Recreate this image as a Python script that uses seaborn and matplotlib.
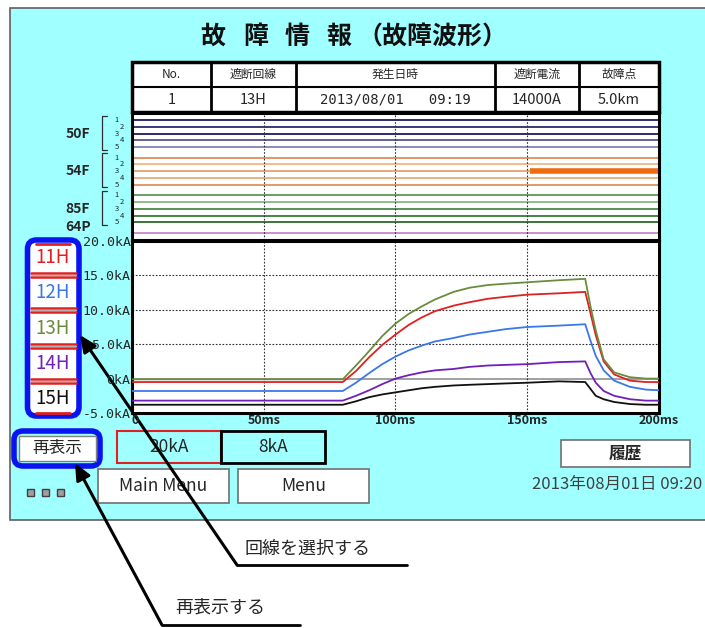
import numpy as np
import pandas as pd
import matplotlib
matplotlib.use('Agg')
import matplotlib.pyplot as plt
import seaborn as sns
from matplotlib.patches import Rectangle, FancyBboxPatch

# ---- data -------------------------------------------------------------
circuits = ['11H', '12H', '13H', '14H', '15H']
circuit_colors = ['#e02020', '#3a78e8', '#6a8c3c', '#7020b8', '#101010']

time_ms = [0, 20, 40, 60, 80, 85, 90, 95, 100, 105, 110, 115, 122, 128, 135, 142,
           150, 162, 172, 174, 176, 179, 183, 189, 195, 200]
i_11h = [-0.5, -0.5, -0.5, -0.5, -0.5, 1.1, 3.1, 4.9, 6.4, 7.8, 8.9, 9.8, 10.6,
         11.1, 11.6, 11.9, 12.2, 12.4, 12.6, 9.5, 6.3, 2.5, 0.6, -0.3, -0.5, -0.5]
i_12h = [-1.8, -1.8, -1.8, -1.8, -1.8, -0.6, 0.8, 2.1, 3.2, 4.1, 4.8, 5.4, 5.9,
         6.4, 6.8, 7.2, 7.5, 7.7, 7.9, 5.5, 3.3, 1.2, -0.3, -1.2, -1.6, -1.7]
i_13h = [-0.1, -0.1, -0.1, -0.1, -0.1, 1.9, 4.0, 6.2, 8.0, 9.4, 10.5, 11.5, 12.6,
         13.2, 13.6, 13.8, 14.0, 14.3, 14.5, 10.5, 7.0, 2.8, 0.9, 0.2, 0.0, 0.0]
i_14h = [-3.2, -3.2, -3.2, -3.2, -3.2, -2.5, -1.7, -0.8, 0.0, 0.5, 0.9, 1.2, 1.4,
         1.7, 1.9, 2.0, 2.1, 2.4, 2.5, 0.8, -0.6, -1.8, -2.5, -3.0, -3.2, -3.2]
i_15h = [-3.8, -3.8, -3.8, -3.8, -3.8, -3.3, -2.7, -2.3, -2.0, -1.7, -1.4, -1.2,
         -1.0, -0.9, -0.8, -0.7, -0.6, -0.4, -0.5, -1.5, -2.5, -3.0, -3.4, -3.7,
         -3.8, -3.8]

groups = ['50F', '54F', '85F', '64P']
group_channels = [5, 5, 5, 1]
digital_colors = [['#1c1c5c', '#2a2a6a', '#1c1c5c', '#55558f', '#8282b4'],
                  ['#e08c5a', '#f0b488', '#e8a070', '#ecac80', '#e0905e'],
                  ['#5a9a5a', '#86b886', '#4a8a4a', '#3a7a3a', '#2a6a2a'],
                  ['#c888c8']]
trip_group, trip_channel, trip_on_ms = '54F', 3, 151

title_words = ['故', '障', '情', '報', '（故障波形）']
table_header = ['No.', '遮断回線', '発生日時', '遮断電流', '故障点']
table_row = ['1', '13H', '2013/08/01   09:19', '14000A', '5.0km']

y_ticks = [-5, 0, 5, 10, 15, 20]
y_labels = ['-5.0kA', '0kA', '5.0kA', '10.0kA', '15.0kA', '20.0kA']
x_ticks = [0, 50, 100, 150, 200]
x_labels = ['0', '50ms', '100ms', '150ms', '200ms']

W, H = 705, 628
MONO = ['DejaVu Sans Mono', 'DejaVu Sans']


def fbox(x0, y0, x1, y1):
    return [x0 / W, 1 - y1 / H, (x1 - x0) / W, (y1 - y0) / H]


sns.set_style('white')
plt.rcParams['font.family'] = ['Noto Sans CJK JP', 'DejaVu Sans']

fig = plt.figure(figsize=(W / 100, H / 100), dpi=100)
bg = fig.add_axes([0, 0, 1, 1])
bg.set_xlim(0, W)
bg.set_ylim(H, 0)
bg.axis('off')

# cyan panel
bg.add_patch(Rectangle((10, 8), 700, 512, facecolor='#a0ffff', edgecolor='#606060', lw=1.2))
for xc, word in zip([213, 256, 297, 339, 432], title_words):
    bg.text(xc, 37, word, ha='center', va='center', fontsize=18, fontweight='bold',
            color='#101010')

# info table
cols = [132, 211, 296, 495, 579, 659]
bg.add_patch(Rectangle((132, 62), 527, 50, facecolor='white', edgecolor='black', lw=2.5))
bg.plot([132, 659], [87, 87], color='black', lw=1.5)
for cx in cols[1:-1]:
    bg.plot([cx, cx], [62, 112], color='black', lw=2)
for k in range(5):
    xc = (cols[k] + cols[k + 1]) / 2
    bg.text(xc, 74.5, table_header[k], ha='center', va='center', fontsize=8.5)
    bg.text(xc, 99.5, table_row[k], ha='center', va='center',
            fontsize=10 if k == 2 else 10.5, family=MONO if k == 2 else None)

# digital section
dax = fig.add_axes(fbox(132, 113, 659, 240))
dax.set_xlim(0, 200)
dax.set_ylim(240, 113)
dax.set_facecolor('white')
idx = 0
for g, name in enumerate(groups):
    ys = []
    for c in range(group_channels[g]):
        y = 120 + idx * 6.8 + g * 3.6
        ys.append(y)
        dax.hlines(y, 0, 200, color=digital_colors[g][c], lw=1.3)
        if name == trip_group and c + 1 == trip_channel:
            dax.hlines(y, trip_on_ms, 200, color='#f06a10', lw=4)
        idx += 1
    if group_channels[g] > 1:
        top, bot = ys[0] - 4.5, ys[-1] + 2.5
        bg.plot([107, 101.5, 101.5, 107], [top, top, bot, bot], color='#303030', lw=0.9)
        for c, y in enumerate(ys):
            bg.text(122 if c % 2 else 116.5, y, str(c + 1), ha='center', va='center',
                    fontsize=5.5)
        bg.text(78, (ys[0] + ys[-1]) / 2, name, ha='center', va='center', fontsize=10,
                fontweight='bold')
    else:
        bg.text(78, ys[0] - 6, name, ha='center', va='center', fontsize=10,
                fontweight='bold')
for t in x_ticks[1:-1]:
    dax.axvline(t, color='#303030', lw=0.8, ls=(0, (1.5, 1.5)))
dax.set_xticks([])
dax.set_yticks([])
for s in dax.spines.values():
    s.set_color('black')
    s.set_linewidth(2.2)

# analog section
ax = fig.add_axes(fbox(132, 241, 659, 413))
wave = pd.DataFrame({
    'time': np.tile(time_ms, len(circuits)),
    'kA': np.concatenate([i_11h, i_12h, i_13h, i_14h, i_15h]),
    'circuit': np.repeat(circuits, len(time_ms)),
})
ax.axhline(0, color='#909090', lw=1.2, zorder=1)
for t in x_ticks[1:-1]:
    ax.axvline(t, color='#303030', lw=0.8, ls=(0, (1.5, 1.5)), zorder=1)
for v in y_ticks[2:-1]:
    ax.axhline(v, color='#303030', lw=0.8, ls=(0, (1.5, 1.5)), zorder=1)
sns.lineplot(data=wave, x='time', y='kA', hue='circuit', hue_order=circuits,
             palette=circuit_colors, lw=1.3, legend=False, ax=ax, zorder=3)
ax.set_xlim(0, 200)
ax.set_ylim(-5, 20)
ax.set_xticks(x_ticks)
ax.set_xticklabels(x_labels, fontsize=9, fontweight='bold')
ax.get_xticklabels()[0].set_ha('left')
ax.set_yticks(y_ticks)
ax.set_yticklabels(y_labels, fontsize=9.5, family=MONO)
ax.tick_params(length=0, pad=1)
ax.set_xlabel('')
ax.set_ylabel('')
ax.set_facecolor('white')
for s in ax.spines.values():
    s.set_color('black')
    s.set_linewidth(2.2)

# circuit selector box
x0, y0, x1, y1 = 27.5, 240, 79, 416
bg.add_patch(FancyBboxPatch((x0, y0), x1 - x0, y1 - y0,
                            boxstyle='round,pad=0,rounding_size=9',
                            facecolor='white', edgecolor='#0a14f0', lw=4, zorder=5))
cell_h = (y1 - y0) / 5
for k, name in enumerate(circuits):
    yc = y0 + cell_h * (k + 0.5)
    bg.text(53, yc, name, ha='center', va='center', fontsize=13.5,
            color=circuit_colors[k], zorder=6)
    if k > 0:
        yb = y0 + cell_h * k
        bg.plot([31, 76], [yb - 2, yb - 2], color='#e02020', lw=1.8, zorder=6)
        bg.plot([31, 76], [yb + 2, yb + 2], color='#e02020', lw=1.8, zorder=6)
        bg.plot([31, 76], [yb, yb], color='#b0b0b0', lw=1.0, zorder=6)
bg.plot([36, 70], [243.5, 243.5], color='#e02020', lw=2.0, zorder=6)
bg.plot([36, 70], [412.5, 412.5], color='#e02020', lw=2.0, zorder=6)

# buttons
bg.add_patch(FancyBboxPatch((14, 431), 86, 35, boxstyle='round,pad=0,rounding_size=9',
                            facecolor='#a0ffff', edgecolor='#0a14f0', lw=4))
bg.add_patch(Rectangle((19, 436), 77, 25, facecolor='white', edgecolor='#808080', lw=1))
bg.text(57.5, 448.5, '再表示', ha='center', va='center', fontsize=12)
bg.add_patch(Rectangle((117, 431), 104, 32, facecolor='none', edgecolor='#e02020', lw=1.5))
bg.add_patch(Rectangle((221, 431), 104, 32, facecolor='none', edgecolor='black', lw=2))
bg.text(169, 447, '20kA', ha='center', va='center', fontsize=12.5)
bg.text(273, 447, '8kA', ha='center', va='center', fontsize=12.5)
for (bx0, by0, bx1, by1, label) in [(561, 440, 690, 467, '履歴'),
                                    (98, 469, 229, 503, 'Main Menu'),
                                    (238, 469, 369, 503, 'Menu')]:
    bg.add_patch(Rectangle((bx0, by0), bx1 - bx0, by1 - by0, facecolor='white',
                           edgecolor='#707070', lw=1.2))
    bg.text((bx0 + bx1) / 2, (by0 + by1) / 2, label, ha='center', va='center',
            fontsize=12.5 if label != '履歴' else 12,
            fontweight='bold' if label == '履歴' else 'normal')
for sx in [30, 45, 60]:
    bg.add_patch(Rectangle((sx - 3.5, 488.5), 7, 7, facecolor='#a0a0a0',
                           edgecolor='#404040', lw=1))
bg.text(702, 484, '2013年08月01日 09:20', ha='right', va='center', fontsize=12,
        color='#404040')

# callouts
bg.text(245, 549, '回線を選択する', ha='left', va='center', fontsize=13)
bg.plot([237, 407], [565, 565], color='black', lw=2)
bg.annotate('', xy=(80, 335), xytext=(237, 565),
            arrowprops=dict(arrowstyle='-|>,head_length=1.0,head_width=0.45',
                            color='black', lw=2.2, shrinkA=0, shrinkB=0), zorder=7)
bg.text(175, 608, '再表示する', ha='left', va='center', fontsize=13)
bg.plot([162, 300], [625, 625], color='black', lw=2)
bg.annotate('', xy=(75, 463), xytext=(162, 625),
            arrowprops=dict(arrowstyle='-|>,head_length=1.0,head_width=0.45',
                            color='black', lw=2.2, shrinkA=0, shrinkB=0))

fig.savefig('out.png', dpi=100)
